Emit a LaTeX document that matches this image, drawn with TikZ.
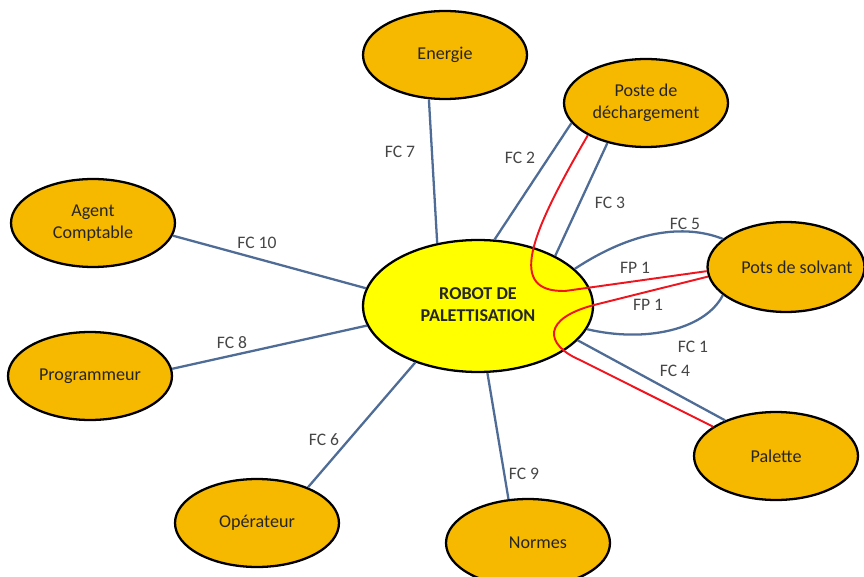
\documentclass[tikz,border=0pt]{standalone}
\usepackage{fontspec}
\setmainfont{Carlito}
\usetikzlibrary{shapes.geometric}
\definecolor{actorfill}{RGB}{247,184,0}
\definecolor{robotfill}{RGB}{255,255,0}
\definecolor{linkblue}{RGB}{78,108,150}
\definecolor{linkred}{RGB}{240,20,30}
\definecolor{labelgray}{RGB}{70,70,70}

\begin{document}
\begin{tikzpicture}[x=0.02cm, y=-0.02cm,
    actor/.style={ellipse, draw=black, line width=1.3pt, fill=actorfill,
        minimum width=3.28cm, minimum height=1.76cm, inner sep=0pt,
        align=center, font=\fontsize{10.3}{12.5}\selectfont, text=black!85},
    robotnode/.style={actor, fill=robotfill, minimum width=4.6cm,
        minimum height=2.64cm, font=\fontsize{10.3}{12.5}\selectfont\bfseries},
    fcline/.style={draw=linkblue, line width=1.3pt},
    fpline/.style={draw=linkred, line width=1.1pt},
    fclabel/.style={font=\fontsize{10}{12}\selectfont, text=labelgray}]
    \useasboundingbox (0,0) rectangle (864,577);

    % Central system and surrounding elements
    \node[robotnode] (robot) at (478,306)
        {\raisebox{3.5pt}{\begin{tabular}{@{}c@{}}ROBOT DE\\PALETTISATION\end{tabular}}};
    \node[actor] (energie) at (445,55) {Energie};
    \node[actor] (poste) at (646,103) {Poste de\\déchargement};
    \node[actor, minimum width=3.14cm, minimum height=1.8cm] (pots) at (786,267)
        {\makebox[0pt]{\hspace{1.2em}Pots de solvant}};
    \node[actor] (palette) at (776,456) {Palette};
    \node[actor] (normes) at (528,543) {\makebox[0pt]{\hspace{1.1em}Normes}};
    \node[actor] (operateur) at (257,523) {Opérateur};
    \node[actor] (programmeur) at (90,376) {Programmeur};
    \node[actor] (agent) at (93,223) {Agent\\Comptable};

    % Constraint functions (FC)
    \draw[fcline] (energie.250) -- (robot.123);
    \draw[fcline] (poste.195) -- (robot.76);
    \draw[fcline] (poste.226) -- (robot.33);
    \draw[fcline] (robot.21) .. controls (640,226) and (690,226) .. (pots.156);
    \draw[fcline] (robot.-12) .. controls (645,343) and (705,330) .. (pots.204);
    \draw[fcline] (robot.-19) -- (palette.145);
    \draw[fcline] (agent.-9) -- (robot.171);
    \draw[fcline] (programmeur.5) -- (robot.190);
    \draw[fcline] (robot.222) -- (operateur.35);
    \draw[fcline] (robot.278) -- (normes.114);

    % Principal functions (FP)
    \draw[fpline] (poste.209) .. controls (528,238) and (508,292) .. (565,291)
        -- (pots.183);
    \draw[fpline] (pots.187) -- (598,304)
        .. controls (540,318) and (545,345) .. (580,360) -- (palette.155);

    % Labels
    \node[fclabel] (l7) at (400,152) {FC 7};
    \node[fclabel] (l2) at (520,158) {FC 2};
    \node[fclabel] (l3) at (610,203) {FC 3};
    \node[fclabel] (l5) at (685,224) {FC 5};
    \node[fclabel] (p1a) at (635,268) {FP 1};
    \node[fclabel] (p1b) at (648,305) {FP 1};
    \node[fclabel] (l1) at (693,347) {FC 1};
    \node[fclabel] (l4) at (675,371) {FC 4};
    \node[fclabel] (l10) at (257,243) {FC 10};
    \node[fclabel] (l8) at (232,343) {FC 8};
    \node[fclabel] (l6) at (324,440) {FC 6};
    \node[fclabel] (l9) at (524,474) {FC 9};
\end{tikzpicture}
\end{document}
